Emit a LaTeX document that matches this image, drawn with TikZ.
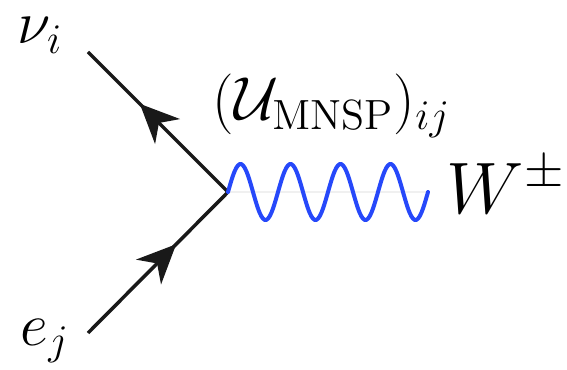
\documentclass[tikz,border=0pt]{standalone}
\usepackage{amsmath,amssymb}
\usepackage{tikz}
\usetikzlibrary{arrows.meta,decorations.markings}

\definecolor{wblue}{RGB}{38,72,250}

\begin{document}
\begin{tikzpicture}[
  x=0.01cm, y=-0.01cm,
  fermion/.style={line width=0.035cm, black!90,
    postaction={decorate, decoration={markings,
      mark=at position 0.63 with {\arrow{Stealth[length=3.9mm, width=3.5mm, inset=1.2mm]}}}}},
  boson/.style={line width=0.04cm, wblue, line cap=round},
  lbl/.style={inner sep=0pt, anchor=base west},
  every node/.style={font=\fontsize{18}{20}\selectfont}
]
\useasboundingbox (0,0) rectangle (567,370);
% vertex and line ends
\coordinate (v) at (228,192);
\coordinate (nuend) at (88,52);
\coordinate (eend) at (88,333);
\coordinate (wend) at (428,192);
% labels
\node[lbl] (nu) at (17,44) {$\nu_i$};
\node[lbl] (e) at (20,345) {$e_j$};
\node[lbl, font=\fontsize{17}{19}\selectfont] (coup) at (212,120) {$(\mathcal{U}_{\mathrm{MNSP}})_{ij}$};
\node[lbl, font=\huge] (w) at (446,213) {$W^{\pm}$};
% lines
\draw[gray!12, line width=0.015cm] (v) -- (wend);
\draw[fermion] (v) -- (nuend);
\draw[fermion] (eend) -- (v);
% W propagator, 4 periods from v to wend
\draw[boson, shift={(v)}] plot[domain=0:200, samples=121, smooth] (\x, {-28*sin(7.2*\x)});
\end{tikzpicture}
\end{document}
